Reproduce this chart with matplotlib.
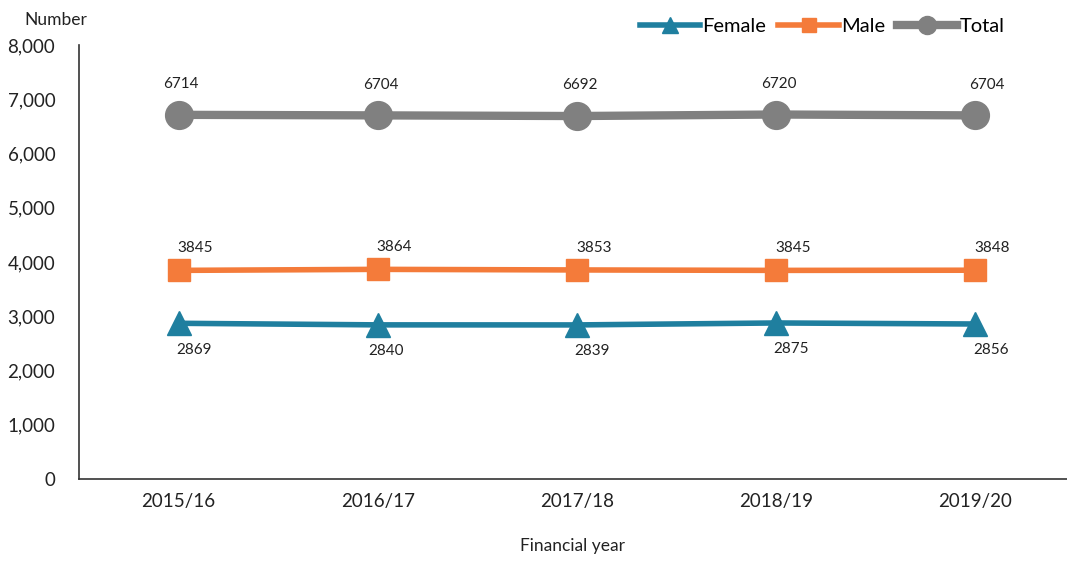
import matplotlib
matplotlib.use("Agg")
import matplotlib.pyplot as plt
from matplotlib.ticker import FuncFormatter

years = ['2015/16', '2016/17', '2017/18', '2018/19', '2019/20']
female = [2869, 2840, 2839, 2875, 2856]
male = [3845, 3864, 3853, 3845, 3848]
total = [6714, 6704, 6692, 6720, 6704]

plt.rcParams['font.family'] = ['Lato', 'DejaVu Sans']

fig = plt.figure(figsize=(10.67, 5.64), dpi=100)
ax = fig.add_axes([0.074, 0.151, 0.926, 0.769])

x = list(range(len(years)))
ax.plot(x, female, color='#1f7f9f', lw=4, marker='^', ms=17, label='Female')
ax.plot(x, male, color='#f47b3a', lw=4, marker='s', ms=16, label='Male')
ax.plot(x, total, color='#808080', lw=6, marker='o', ms=20, label='Total')

# data labels
for i, v in enumerate(total):
    dx = 8 if i == 4 else 2
    ax.annotate(str(v), (i, v), xytext=(dx, 17), textcoords='offset points',
                ha='center', va='bottom', fontsize=11, color='#222222')
for i, v in enumerate(male):
    ax.annotate(str(v), (i, v), xytext=(12, 11), textcoords='offset points',
                ha='center', va='bottom', fontsize=11, color='#222222')
for i, v in enumerate(female):
    dx = 11 if i != 1 else 6
    ax.annotate(str(v), (i, v), xytext=(dx, -14), textcoords='offset points',
                ha='center', va='top', fontsize=11, color='#222222')

ax.set_ylim(0, 8000)
ax.set_xlim(-0.5, 4.46)
ax.set_yticks(range(0, 8001, 1000))
ax.yaxis.set_major_formatter(FuncFormatter(lambda v, p: f'{int(v):,}'))
ax.set_xticks(x)
ax.set_xticklabels(years)
ax.tick_params(length=0, labelsize=13.5, colors='#222222', pad=10)
ax.tick_params(axis='y', pad=17)
for s in ['top', 'right']:
    ax.spines[s].set_visible(False)
for s in ['left', 'bottom']:
    ax.spines[s].set_color('#333333')
    ax.spines[s].set_linewidth(1.2)

fig.text(0.023, 0.955, 'Number', fontsize=12.5, color='#222222')
ax.set_xlabel('Financial year', fontsize=12.5, color='#222222', labelpad=20)

ax.legend(loc='upper right', bbox_to_anchor=(0.955, 1.105), ncol=3, frameon=False,
          fontsize=14.5, handlelength=3.0, handletextpad=0.1, columnspacing=0.6,
          markerscale=0.65)

fig.savefig('out.png', dpi=100)
